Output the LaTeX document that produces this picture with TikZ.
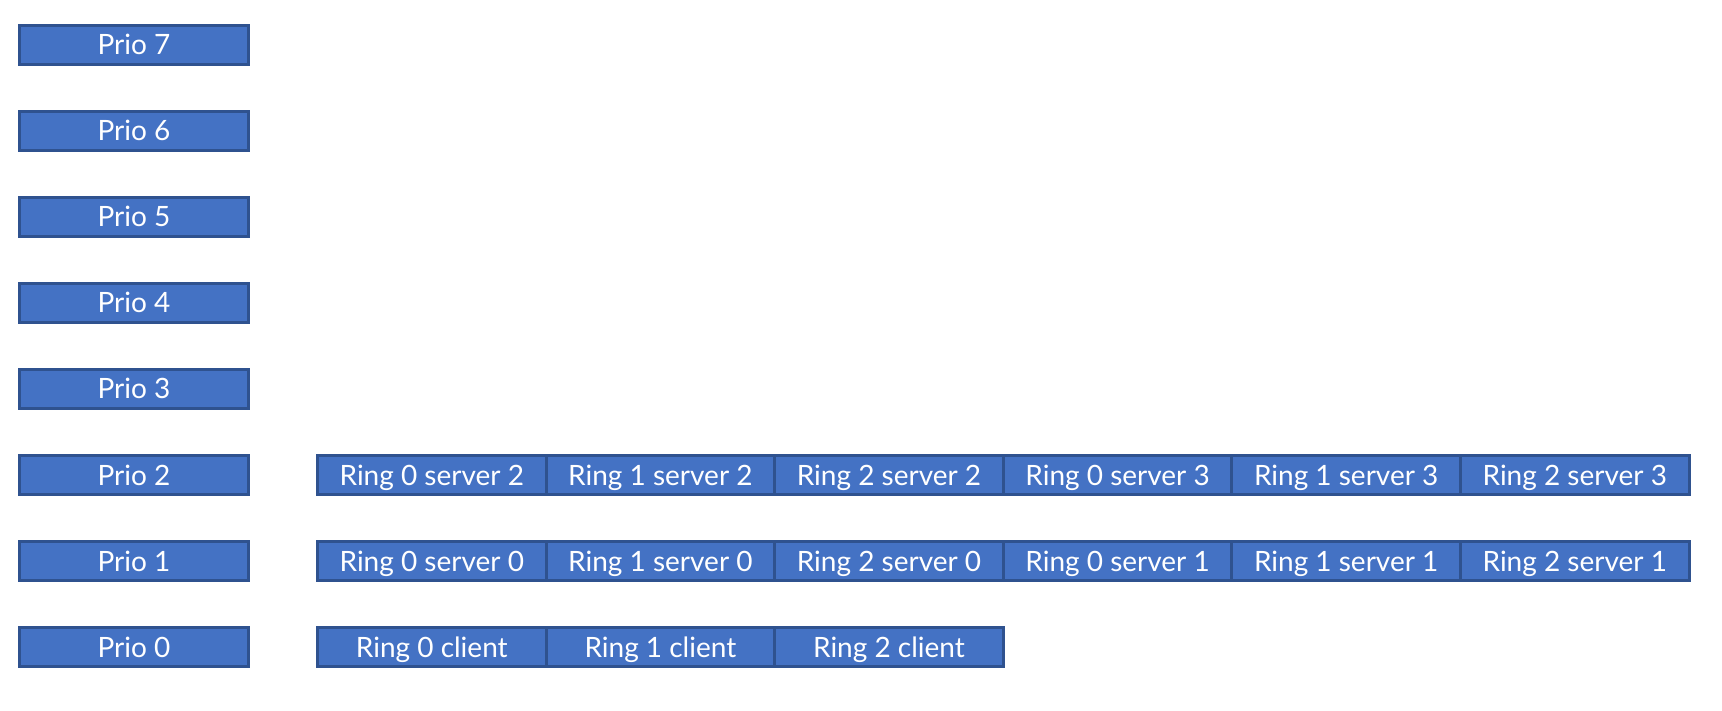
\documentclass[tikz,border=0pt]{standalone}
\usepackage{fontspec}
\setmainfont{Lato}
\definecolor{boxfill}{HTML}{4472C4}
\definecolor{boxline}{HTML}{2F528F}
\begin{document}
\begin{tikzpicture}[x=1pt,y=-1pt,
  cell/.style={draw=boxline,fill=boxfill,line width=3pt,minimum height=39pt,inner sep=0pt,
    text=white,font=\fontsize{28}{32}\selectfont,text height=20pt,text depth=0pt},
  prio/.style={cell,minimum width=229pt},
  ring/.style={cell,minimum width=228.6pt}]
\useasboundingbox (0,0) rectangle (1722,711);
\foreach \k in {0,...,7}{
  \node[prio] (p\k) at (134,{45+(7-\k)*86}) {Prio \k};
}
% Prio 2 row
\node[ring] (r20) at (431.8,{45+5*86}) {Ring 0 server 2};
\node[ring] (r21) at (660.4,{45+5*86}) {Ring 1 server 2};
\node[ring] (r22) at (889.0,{45+5*86}) {Ring 2 server 2};
\node[ring] (r23) at (1117.6,{45+5*86}) {Ring 0 server 3};
\node[ring] (r24) at (1346.2,{45+5*86}) {Ring 1 server 3};
\node[ring] (r25) at (1574.8,{45+5*86}) {Ring 2 server 3};
% Prio 1 row
\node[ring] (r10) at (431.8,{45+6*86}) {Ring 0 server 0};
\node[ring] (r11) at (660.4,{45+6*86}) {Ring 1 server 0};
\node[ring] (r12) at (889.0,{45+6*86}) {Ring 2 server 0};
\node[ring] (r13) at (1117.6,{45+6*86}) {Ring 0 server 1};
\node[ring] (r14) at (1346.2,{45+6*86}) {Ring 1 server 1};
\node[ring] (r15) at (1574.8,{45+6*86}) {Ring 2 server 1};
% Prio 0 row
\node[ring] (r00) at (431.8,{45+7*86}) {Ring 0 client};
\node[ring] (r01) at (660.4,{45+7*86}) {Ring 1 client};
\node[ring] (r02) at (889.0,{45+7*86}) {Ring 2 client};
\end{tikzpicture}
\end{document}
